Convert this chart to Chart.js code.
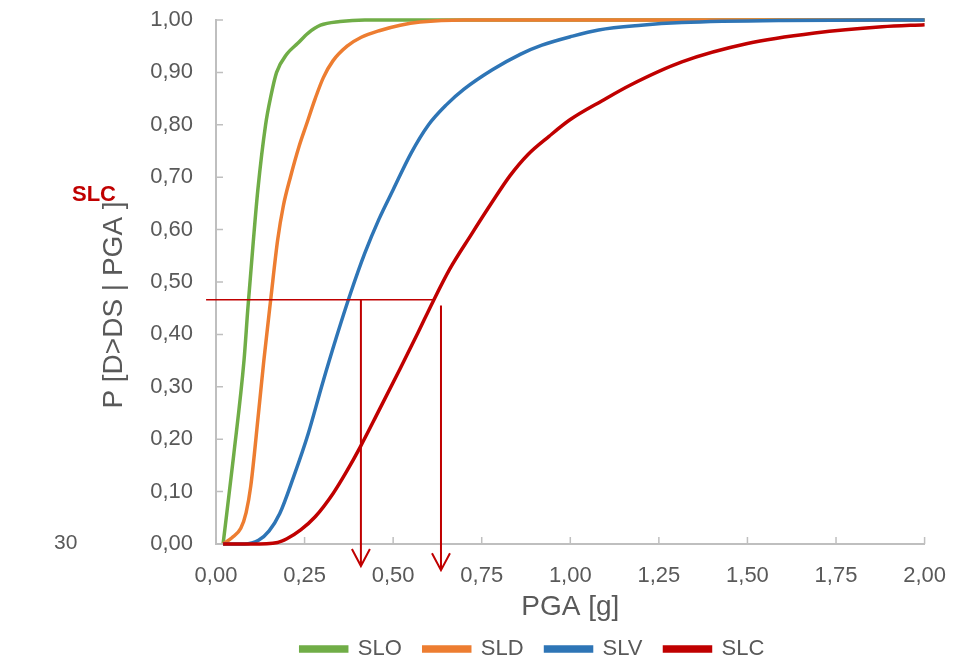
<!DOCTYPE html>
<html>
<head>
<meta charset="utf-8">
<script src="https://cdn.jsdelivr.net/npm/chart.js@4.4.0/dist/chart.umd.min.js"></script>
<style>
html, body { margin: 0; padding: 0; background: #fff; }
#wrap { position: relative; width: 965px; height: 660px; }
#chart { position: absolute; left: 0; top: 0; }
.frag { position: absolute; font-family: "Liberation Sans", Arial, sans-serif; line-height: 1; white-space: nowrap; }
</style>
</head>
<body>
<div id="wrap">
  <canvas id="chart" width="965" height="660"></canvas>
  <div class="frag" style="left:72px;top:183px;font-size:22px;font-weight:bold;color:#c00000;">SLC</div>
  <div class="frag" style="left:54px;top:531px;width:24px;overflow:hidden;font-size:21px;color:#595959;">30</div>
</div>
<script>
// PGA [g] and P[D>DS | PGA]
const sloX = [0.02, 0.05, 0.079, 0.09, 0.105, 0.118, 0.14, 0.155, 0.171, 0.20, 0.23, 0.26, 0.295, 0.35, 0.42, 0.6, 1.0, 2.0];
const sloY = [0, 0.17, 0.35, 0.45, 0.575, 0.675, 0.80, 0.855, 0.90, 0.935, 0.955, 0.975, 0.99, 0.997, 1.0, 1.0, 1.0, 1.0];

const sldX = [0.02, 0.045, 0.07, 0.085, 0.098, 0.12, 0.135, 0.155, 0.174, 0.19, 0.21, 0.235, 0.255, 0.28, 0.303, 0.33, 0.37, 0.41, 0.463, 0.52, 0.576, 0.7, 1.0, 2.0];
const sldY = [0, 0.012, 0.03, 0.06, 0.11, 0.25, 0.35, 0.47, 0.58, 0.645, 0.70, 0.76, 0.80, 0.85, 0.89, 0.922, 0.95, 0.967, 0.98, 0.99, 0.996, 1.0, 1.0, 1.0];

const slvX = [0.02, 0.08, 0.12, 0.15, 0.18, 0.22, 0.26, 0.30, 0.34, 0.38, 0.42, 0.46, 0.50, 0.55, 0.60, 0.65, 0.70, 0.78, 0.86, 0.92, 1.0, 1.08, 1.2, 1.315, 1.6, 2.0];
const slvY = [0, 0.0, 0.007, 0.025, 0.058, 0.13, 0.21, 0.305, 0.395, 0.479, 0.555, 0.62, 0.676, 0.745, 0.80, 0.838, 0.868, 0.905, 0.935, 0.952, 0.968, 0.981, 0.99, 0.995, 0.999, 1.0];

const slcX = [0.02, 0.10, 0.174, 0.20, 0.239, 0.28, 0.331, 0.37, 0.407, 0.46, 0.52, 0.57, 0.612, 0.66, 0.72, 0.78, 0.83, 0.88, 0.94, 1.0, 1.09, 1.17, 1.315, 1.50, 1.69, 1.88, 2.0];
const slcY = [0, 0.0, 0.003, 0.01, 0.027, 0.052, 0.097, 0.14, 0.185, 0.255, 0.335, 0.403, 0.462, 0.525, 0.59, 0.653, 0.703, 0.743, 0.778, 0.81, 0.846, 0.876, 0.92, 0.955, 0.975, 0.987, 0.991];

// guide lines (horizontal level and the two arrows)
const guideLevel = 0.466;
const guideFrom = -0.028;
const guideTo = 0.618;
const arrowX = [0.409, 0.635];
const arrowTop = [0.466, 0.455];
const arrowTip = [-0.042, -0.05];

const grey = '#595959';
const axisGrey = '#bfbfbf';
const font = '"Liberation Sans", Arial, sans-serif';

function pts(xs, ys) {
    return xs.map((x, i) => ({ x: x, y: ys[i] }));
}

function comma(v) {
    return Number(v).toFixed(2).replace('.', ',');
}

function line(label, xs, ys, color, order) {
    return {
        label: label,
        data: pts(xs, ys),
        borderColor: color,
        backgroundColor: color,
        borderWidth: 3.5,
        pointRadius: 0,
        cubicInterpolationMode: 'monotone',
        clip: 6,
        order: order
    };
}

const extras = {
    id: 'extras',
    beforeInit(chart) {
        const fit = chart.legend.fit;
        chart.legend.fit = function () {
            fit.call(this);
            this.height = 44;
        };
    },
    afterLayout(chart) {
        // legend is centred a bit left of the plot area
        chart.legend.left = 100;
        chart.legend.right = 965;
    },
    afterDraw(chart) {
        const ctx = chart.ctx;
        const xs = chart.scales.x;
        const ys = chart.scales.y;
        const area = chart.chartArea;

        ctx.save();
        // inside tick marks
        ctx.strokeStyle = axisGrey;
        ctx.lineWidth = 1.5;
        ctx.beginPath();
        xs.ticks.forEach(t => {
            const px = xs.getPixelForValue(t.value);
            ctx.moveTo(px, area.bottom);
            ctx.lineTo(px, area.bottom - 7);
        });
        ys.ticks.forEach(t => {
            const py = ys.getPixelForValue(t.value);
            ctx.moveTo(area.left, py);
            ctx.lineTo(area.left + 7, py);
        });
        ctx.stroke();

        // guide lines
        ctx.strokeStyle = '#c00000';
        ctx.lineWidth = 1.6;
        const gy = ys.getPixelForValue(guideLevel);
        ctx.beginPath();
        ctx.moveTo(xs.getPixelForValue(guideFrom), gy);
        ctx.lineTo(xs.getPixelForValue(guideTo), gy);
        ctx.stroke();

        ctx.lineWidth = 2;
        arrowX.forEach((ax, i) => {
            const px = xs.getPixelForValue(ax);
            const top = ys.getPixelForValue(arrowTop[i]);
            const tip = ys.getPixelForValue(arrowTip[i]);
            ctx.beginPath();
            ctx.moveTo(px, top);
            ctx.lineTo(px, tip);
            ctx.moveTo(px - 9, tip - 17);
            ctx.lineTo(px, tip);
            ctx.lineTo(px + 9, tip - 17);
            ctx.stroke();
        });

        // axis titles
        ctx.fillStyle = grey;
        ctx.font = '28px ' + font;
        ctx.textAlign = 'center';
        ctx.textBaseline = 'middle';
        ctx.fillText('PGA [g]', (area.left + area.right) / 2, 607);
        ctx.translate(114, 305);
        ctx.rotate(-Math.PI / 2);
        ctx.fillText('P [D>DS | PGA ]', 0, 0);
        ctx.restore();
    }
};

new Chart(document.getElementById('chart'), {
    type: 'line',
    data: {
        datasets: [
            line('SLO', sloX, sloY, '#70ad47', 4),
            line('SLD', sldX, sldY, '#ed7d31', 3),
            line('SLV', slvX, slvY, '#2e75b6', 2),
            line('SLC', slcX, slcY, '#c00000', 1)
        ]
    },
    options: {
        responsive: false,
        animation: false,
        layout: { padding: { left: 0, right: 38, top: 20, bottom: 0 } },
        scales: {
            x: {
                type: 'linear',
                min: 0,
                max: 2,
                afterFit(s) {
                    s.height = 72;
                    s.paddingTop = 0;
                    s.paddingBottom = 0;
                },
                grid: { display: false, drawTicks: false },
                border: { display: true, color: axisGrey, width: 2 },
                ticks: {
                    stepSize: 0.25,
                    autoSkip: false,
                    maxRotation: 0,
                    padding: 19,
                    color: grey,
                    font: { family: font, size: 22 },
                    callback: comma
                }
            },
            y: {
                min: 0,
                max: 1,
                afterFit(s) {
                    s.width = 216;
                    s.paddingTop = 0;
                    s.paddingBottom = 0;
                },
                grid: { display: false, drawTicks: false },
                border: { display: true, color: axisGrey, width: 2 },
                ticks: {
                    stepSize: 0.1,
                    padding: 23,
                    color: grey,
                    font: { family: font, size: 22 },
                    callback: comma
                }
            }
        },
        plugins: {
            legend: {
                position: 'bottom',
                labels: {
                    boxWidth: 46,
                    boxHeight: 4,
                    padding: 22,
                    color: grey,
                    font: { family: font, size: 22 },
                    sort: (a, b) => a.datasetIndex - b.datasetIndex
                }
            },
            tooltip: { enabled: false }
        }
    },
    plugins: [extras]
});
</script>
</body>
</html>
